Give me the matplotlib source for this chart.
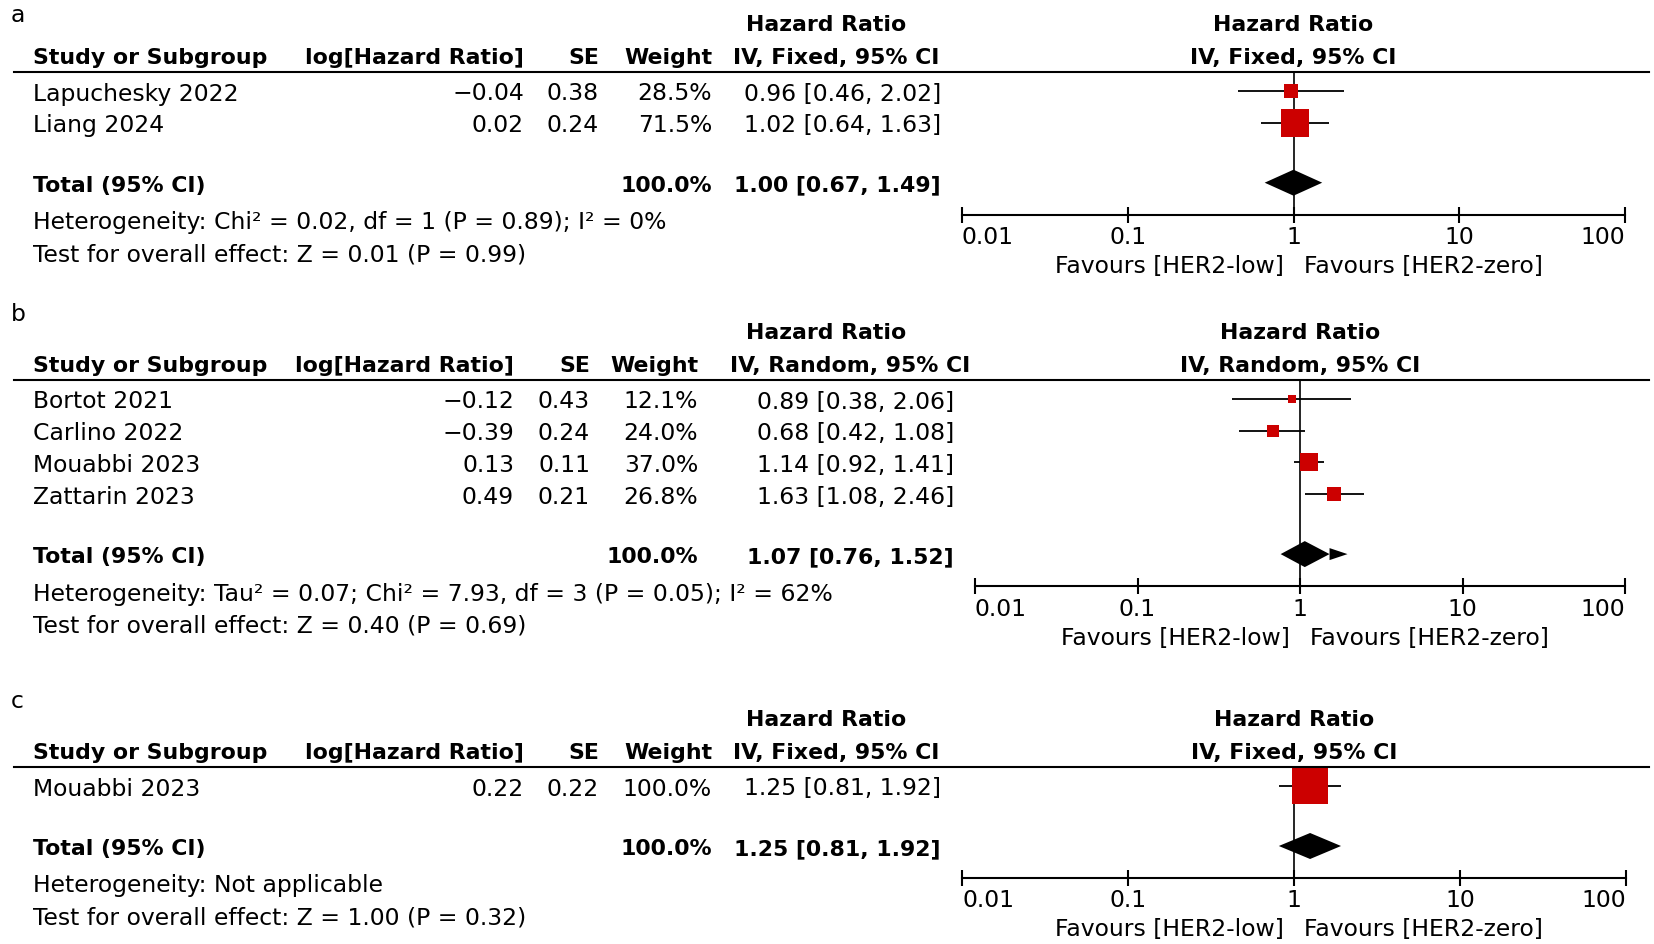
import matplotlib
matplotlib.use("Agg")
import matplotlib.pyplot as plt
from matplotlib.transforms import offset_copy

# ---- data -------------------------------------------------------------
studies_a = ["Lapuchesky 2022", "Liang 2024"]
loghr_a = [-0.04, 0.02]
se_a = [0.38, 0.24]
weight_a = [28.5, 71.5]
hr_a = [0.96, 1.02]
lo_a = [0.46, 0.64]
hi_a = [2.02, 1.63]
total_a = [1.00, 0.67, 1.49]
method_a = "IV, Fixed, 95% CI"
het_a = "Heterogeneity: Chi\u00b2 = 0.02, df = 1 (P = 0.89); I\u00b2 = 0%"
test_a = "Test for overall effect: Z = 0.01 (P = 0.99)"

studies_b = ["Bortot 2021", "Carlino 2022", "Mouabbi 2023", "Zattarin 2023"]
loghr_b = [-0.12, -0.39, 0.13, 0.49]
se_b = [0.43, 0.24, 0.11, 0.21]
weight_b = [12.1, 24.0, 37.0, 26.8]
hr_b = [0.89, 0.68, 1.14, 1.63]
lo_b = [0.38, 0.42, 0.92, 1.08]
hi_b = [2.06, 1.08, 1.41, 2.46]
total_b = [1.07, 0.76, 1.52]
method_b = "IV, Random, 95% CI"
het_b = ("Heterogeneity: Tau\u00b2 = 0.07; Chi\u00b2 = 7.93, df = 3 "
         "(P = 0.05); I\u00b2 = 62%")
test_b = "Test for overall effect: Z = 0.40 (P = 0.69)"

studies_c = ["Mouabbi 2023"]
loghr_c = [0.22]
se_c = [0.22]
weight_c = [100.0]
hr_c = [1.25]
lo_c = [0.81]
hi_c = [1.92]
total_c = [1.25, 0.81, 1.92]
method_c = "IV, Fixed, 95% CI"
het_c = "Heterogeneity: Not applicable"
test_c = "Test for overall effect: Z = 1.00 (P = 0.32)"

ticks = [0.01, 0.1, 1, 10, 100]
tick_labels = ["0.01", "0.1", "1", "10", "100"]
fav_left = "Favours [HER2-low]"
fav_right = "Favours [HER2-zero]"

# ---- layout (pixels, y down) -----------------------------------------
W, H = 1654, 945
FS = 16.9      # regular text
FSB = 15.8     # bold text
DY = 2         # small text shift to sit like the original
RED = "#CC0000"
plt.rcParams['font.family'] = ['DejaVu Sans']

fig = plt.figure(figsize=(W / 100, H / 100), dpi=100)


def style(bold):
    if bold:
        return dict(fontsize=FSB, fontweight="bold")
    return dict(fontsize=FS)


def txt(x, y, s, ha="left", bold=False):
    fig.text(x / W, 1 - (y + DY) / H, s, ha=ha, va="center", **style(bold))


def fmt(v):
    return f"{v:.2f}".replace("-", "\u2212")


def panel(letter, letter_y, line_y, cols, plot_x, data, method, het, test,
          arrow=False):
    studies, loghr, se, weight, hr, lo, hi, total = data
    c_logr, c_se, c_w, c_hr, c_h1, c_h2 = cols
    x0, x1 = plot_x

    txt(11, letter_y, letter)
    # headers
    txt(c_h1, line_y - 50, "Hazard Ratio", "center", True)
    txt(33, line_y - 17, "Study or Subgroup", bold=True)
    txt(c_logr, line_y - 17, "log[Hazard Ratio]", "right", True)
    txt(c_se, line_y - 17, "SE", "right", True)
    txt(c_w, line_y - 17, "Weight", "right", True)
    txt(c_h2, line_y - 17, method, "center", True)
    fig.add_artist(plt.Line2D([14 / W, 1649 / W],
                              [1 - line_y / H, 1 - line_y / H],
                              color="black", lw=1.5))

    rows = [line_y + 19 + 31.7 * i for i in range(len(studies))]
    for y, name, lg, s, w, h, l, u in zip(rows, studies, loghr, se, weight,
                                          hr, lo, hi):
        txt(33, y, name)
        txt(c_logr, y, fmt(lg), "right")
        txt(c_se, y, fmt(s), "right")
        txt(c_w, y, f"{w:.1f}%", "right")
        txt(c_hr, y, f"{h:.2f} [{l:.2f}, {u:.2f}]", "right")

    tot_y = rows[-1] + 60
    axis_y = tot_y + 32
    txt(33, tot_y, "Total (95% CI)", bold=True)
    txt(c_w, tot_y, "100.0%", "right", True)
    txt(c_hr, tot_y, f"{total[0]:.2f} [{total[1]:.2f}, {total[2]:.2f}]",
        "right", True)
    txt(33, tot_y + 37, het)
    txt(33, tot_y + 69, test)

    # forest plot axes: data y == pixel y
    ax = fig.add_axes([x0 / W, 1 - axis_y / H, (x1 - x0) / W,
                       (axis_y - line_y) / H])
    ax.set_xscale("log")
    ax.set_xlim(0.01, 100)
    ax.set_ylim(axis_y, line_y)
    for side in ["top", "left", "right"]:
        ax.spines[side].set_visible(False)
    ax.spines["bottom"].set_linewidth(1.5)
    ax.set_yticks([])
    ax.set_xticks(ticks)
    ax.minorticks_off()
    ax.tick_params(axis="x", direction="inout", length=12, width=1.5,
                   labelbottom=False)
    ax.patch.set_visible(False)
    for t, lab, ha in zip(ticks, tick_labels,
                          ["left", "center", "center", "center", "right"]):
        ax.text(t, axis_y + 20 + DY, lab, ha=ha, va="center", fontsize=FS,
                clip_on=False)
    ax.text(1, axis_y + 49 + DY, fav_left, ha="right", va="center",
            fontsize=FS, clip_on=False,
            transform=offset_copy(ax.transData, fig, x=-10, units="dots"))
    ax.text(1, axis_y + 49 + DY, fav_right, ha="left", va="center",
            fontsize=FS, clip_on=False,
            transform=offset_copy(ax.transData, fig, x=10, units="dots"))
    ax.text(1, line_y - 50 + DY, "Hazard Ratio", ha="center", va="center",
            clip_on=False, **style(True))
    ax.text(1, line_y - 17 + DY, method, ha="center", va="center",
            clip_on=False, **style(True))

    ax.axvline(1, color="black", lw=1.2, zorder=1)
    for y, w, h, l, u in zip(rows, weight, hr, lo, hi):
        ax.hlines(y, l, u, color="black", lw=1.3, zorder=2)
        side = 1.15 * w ** 0.75
        ax.plot(h, y, marker="s", ms=side * 0.72, color=RED, mec=RED,
                mew=0, zorder=3, clip_on=False)
    th, tl, tu = total
    ax.fill([tl, th, tu, th], [tot_y, tot_y - 13, tot_y, tot_y + 13],
            color="black", lw=0, zorder=3)
    if arrow:
        tip = tu * 10 ** (18 / 163)
        ax.fill([tu, tip, tu], [tot_y - 6, tot_y, tot_y + 6],
                color="black", lw=0, zorder=3)


panel("a", 13, 73, (524, 599, 712, 941, 826, 836), (962, 1625),
      (studies_a, loghr_a, se_a, weight_a, hr_a, lo_a, hi_a, total_a),
      method_a, het_a, test_a)
panel("b", 313, 381, (514, 590, 698, 954, 826, 850), (975, 1625),
      (studies_b, loghr_b, se_b, weight_b, hr_b, lo_b, hi_b, total_b),
      method_b, het_b, test_b, arrow=True)
panel("c", 700, 768, (524, 599, 712, 941, 826, 836), (962, 1626),
      (studies_c, loghr_c, se_c, weight_c, hr_c, lo_c, hi_c, total_c),
      method_c, het_c, test_c)

fig.savefig("out.png", dpi=100)
